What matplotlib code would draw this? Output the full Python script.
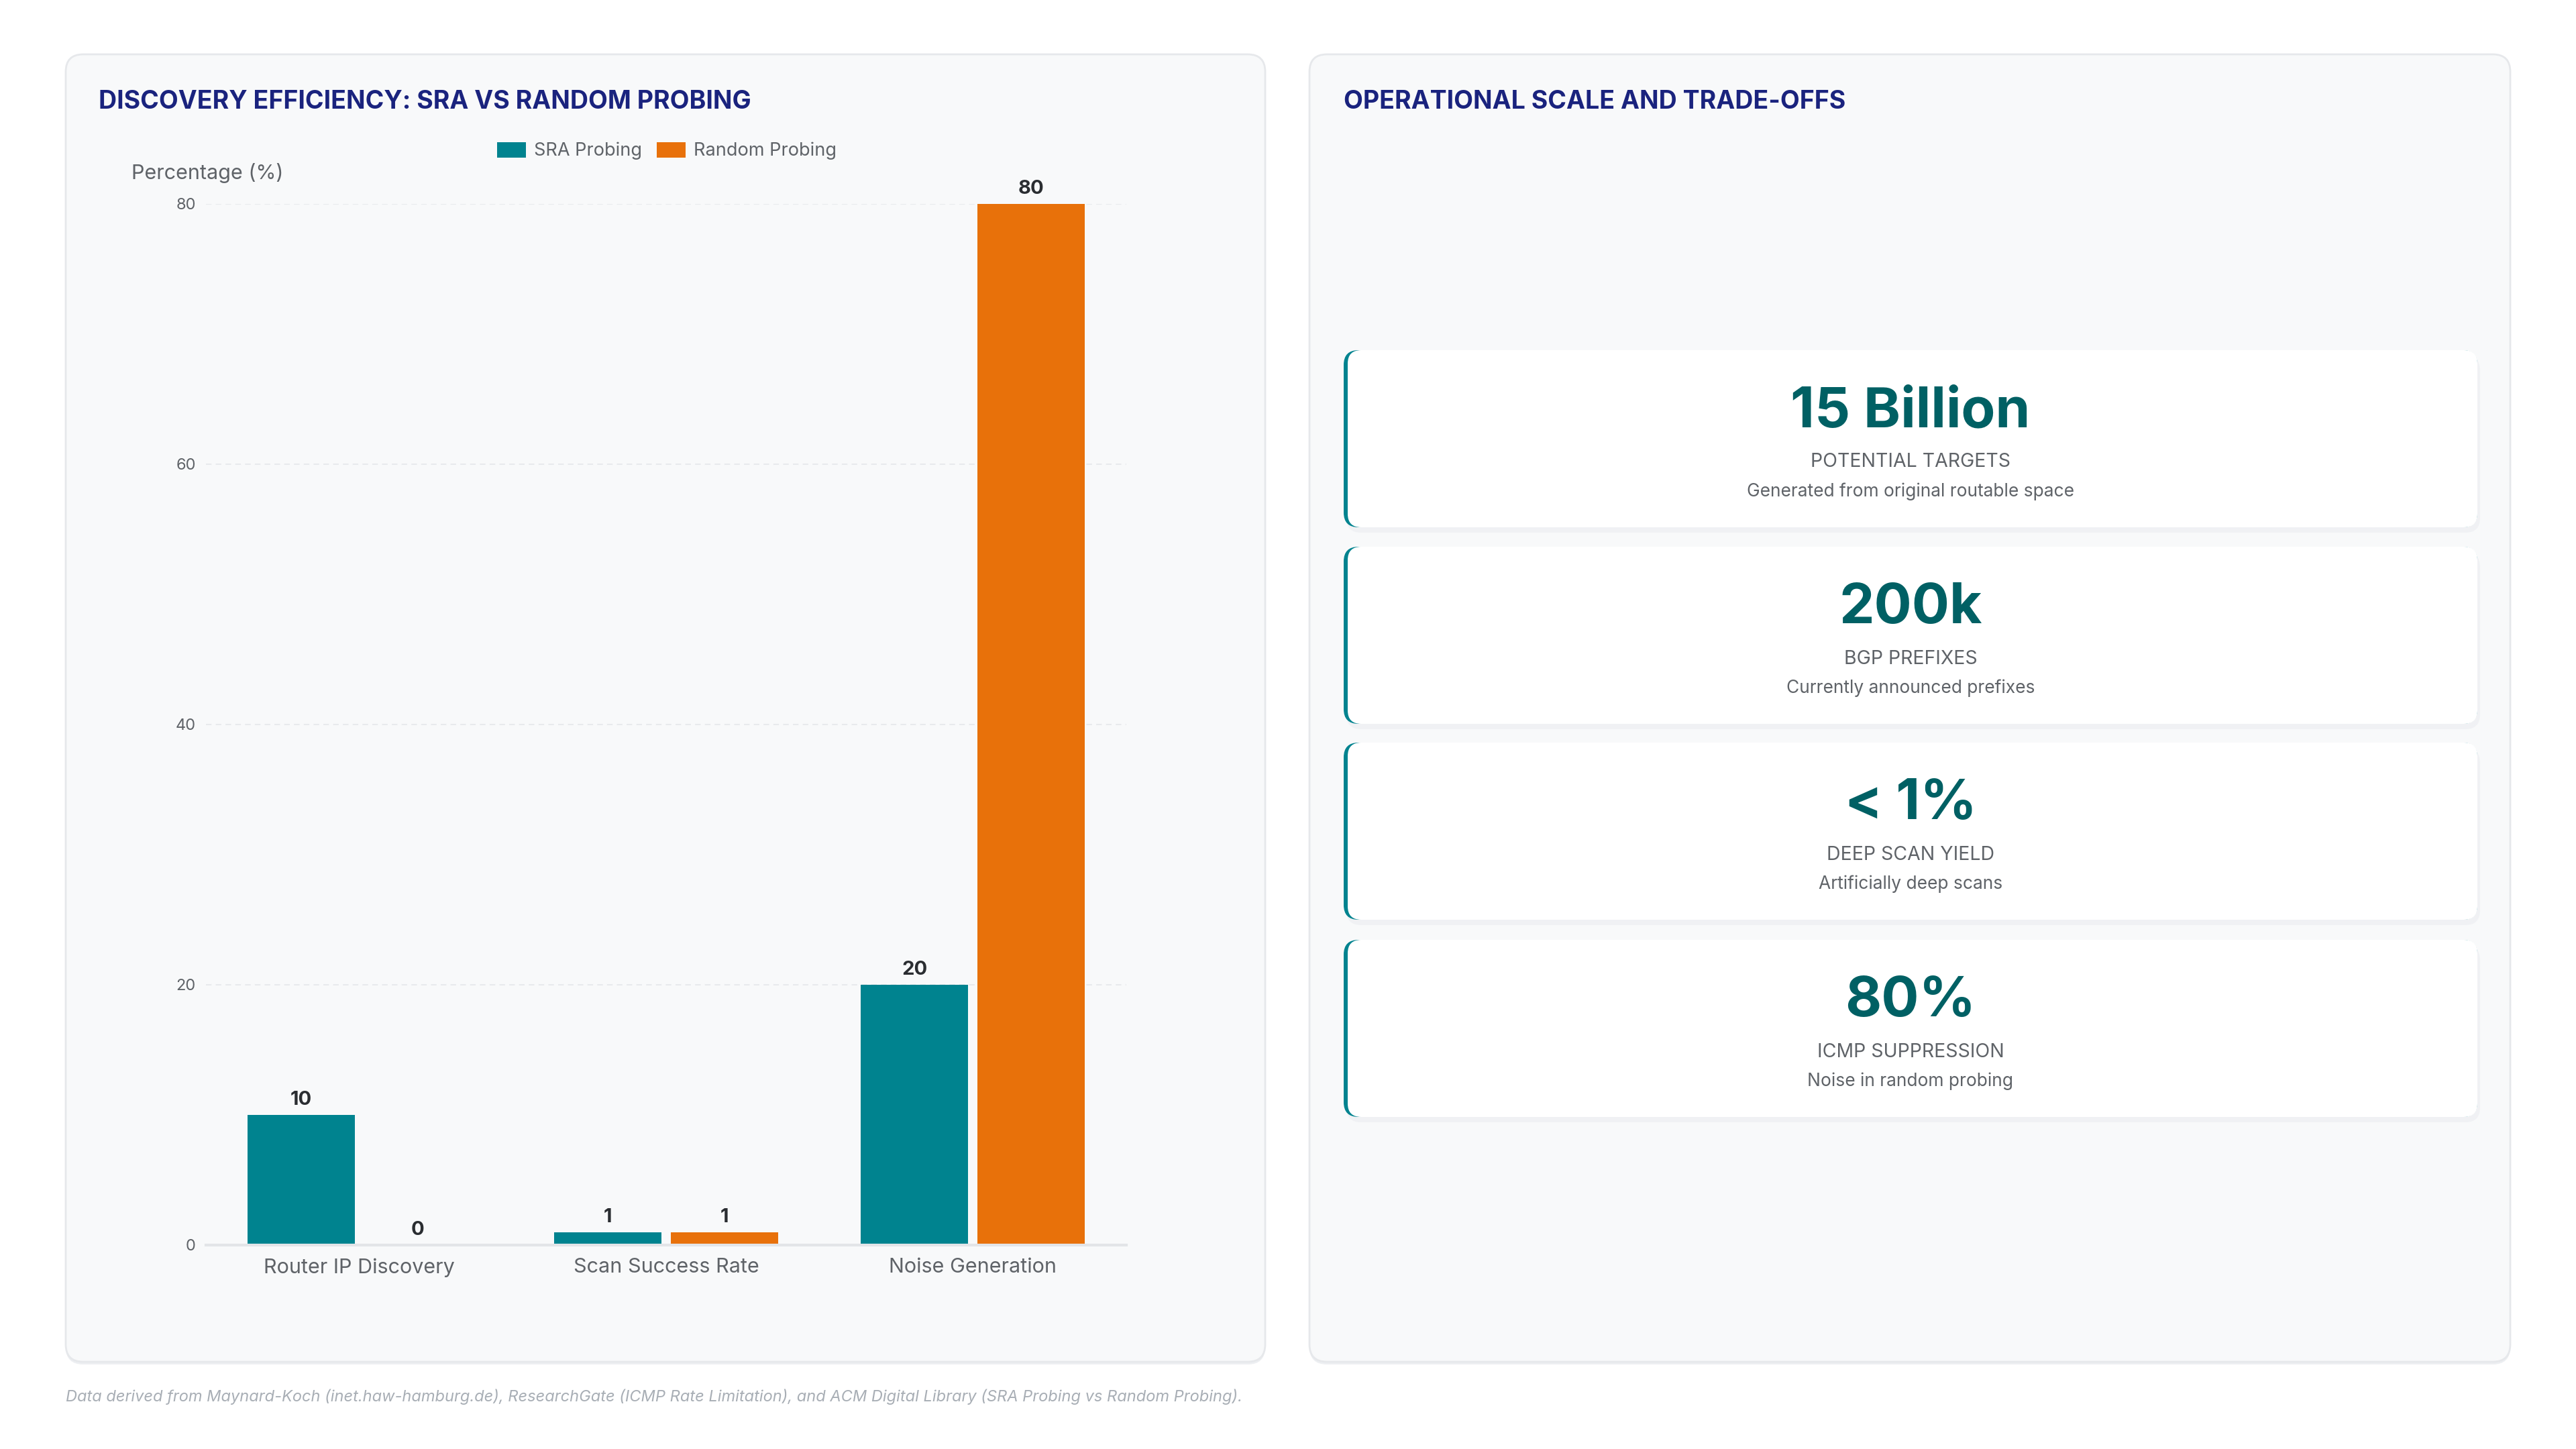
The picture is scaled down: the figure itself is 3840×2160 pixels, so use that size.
import matplotlib
matplotlib.use("Agg")
import matplotlib.pyplot as plt
from matplotlib.patches import FancyBboxPatch, Patch
import numpy as np

plt.rcParams['font.family'] = ['Inter', 'DejaVu Sans']

# ---------------- data ----------------
categories = ["Router IP Discovery", "Scan Success Rate", "Noise Generation"]
sra_values = [10, 1, 20]
random_values = [0, 1, 80]
series_names = ["SRA Probing", "Random Probing"]
y_ticks = [0, 20, 40, 60, 80]

card_values = ["15 Billion", "200k", "< 1%", "80%"]
card_labels = ["POTENTIAL TARGETS", "BGP PREFIXES", "DEEP SCAN YIELD", "ICMP SUPPRESSION"]
card_subs = ["Generated from original routable space", "Currently announced prefixes",
             "Artificially deep scans", "Noise in random probing"]

left_title = "DISCOVERY EFFICIENCY: SRA VS RANDOM PROBING"
right_title = "OPERATIONAL SCALE AND TRADE-OFFS"
y_label = "Percentage (%)"
footer = ("Data derived from Maynard-Koch (inet.haw-hamburg.de), ResearchGate (ICMP Rate Limitation), "
          "and ACM Digital Library (SRA Probing vs Random Probing).")

# ---------------- style ----------------
TEAL = "#00838F"
ORANGE = "#E8710A"
DARK_TEAL = "#006064"
NAVY = "#1A237E"
GRAY = "#5F6368"
PANEL_BG = "#F8F9FA"
BORDER = "#E6E8EB"

W, H = 3840, 2160
fig = plt.figure(figsize=(W / 100, H / 100), dpi=100, facecolor="white")

# background axes in pixel coordinates
bg = fig.add_axes([0, 0, 1, 1], zorder=0)
bg.set_xlim(0, W)
bg.set_ylim(H, 0)
bg.axis("off")

def panel(x0, y0, x1, y1):
    bg.add_patch(FancyBboxPatch((x0, y0 + 4), x1 - x0, y1 - y0, boxstyle="round,pad=0,rounding_size=26",
                                fc="#EDEFF2", ec="none", zorder=1))
    bg.add_patch(FancyBboxPatch((x0, y0), x1 - x0, y1 - y0, boxstyle="round,pad=0,rounding_size=26",
                                fc=PANEL_BG, ec=BORDER, lw=2, zorder=2))

panel(98, 81, 1886, 2030)
panel(1952, 81, 3742, 2030)

bg.text(147, 152, left_title, fontsize=27, fontweight="bold", color=NAVY, va="center", ha="left", zorder=5)
bg.text(2003, 152, right_title, fontsize=27, fontweight="bold", color=NAVY, va="center", ha="left", zorder=5)
bg.text(196, 258, y_label, fontsize=22, color=GRAY, va="center", ha="left", zorder=5)
bg.text(98, 2082, footer, fontsize=17, color="#A8AEB5", style="italic", va="center", ha="left", zorder=5)

# cards
card_x0, card_x1 = 2003, 3693
card_tops = [522, 815, 1107, 1401]
card_h = 264
for top, val, lab, sub in zip(card_tops, card_values, card_labels, card_subs):
    bg.add_patch(FancyBboxPatch((card_x0 + 4, top + 8), card_x1 - card_x0, card_h,
                                boxstyle="round,pad=0,rounding_size=22", fc="#EEF0F3", ec="none",
                                alpha=0.8, zorder=3))
    bg.add_patch(FancyBboxPatch((card_x0, top), card_x1 - card_x0, card_h,
                                boxstyle="round,pad=0,rounding_size=22", fc=TEAL, ec="none", zorder=4))
    bg.add_patch(FancyBboxPatch((card_x0 + 6, top), card_x1 - card_x0 - 6, card_h,
                                boxstyle="round,pad=0,rounding_size=20", fc="white", ec="none", zorder=4.5))
    cx = (card_x0 + card_x1) / 2
    bg.text(cx, top + 92, val, fontsize=60, fontweight="bold", color=DARK_TEAL, ha="center", va="center", zorder=6)
    bg.text(cx, top + 167, lab, fontsize=20.5, color=GRAY, ha="center", va="center", zorder=6)
    bg.text(cx, top + 211, sub, fontsize=19, color=GRAY, ha="center", va="center", zorder=6)

# ---------------- bar chart ----------------
ax_l, ax_r = 307 / W, 1679 / W
ax_b, ax_t = 1 - 1856 / H, 1 - 304 / H
ax = fig.add_axes([ax_l, ax_b, ax_r - ax_l, ax_t - ax_b], zorder=10)
ax.set_facecolor("none")

x = np.arange(len(categories))
bw = 0.35
off = 0.19
b1 = ax.bar(x - off, sra_values, bw, color=TEAL, zorder=3, label=series_names[0])
b2 = ax.bar(x + off, random_values, bw, color=ORANGE, zorder=3, label=series_names[1])

for bars, vals in ((b1, sra_values), (b2, random_values)):
    for rect, v in zip(bars, vals):
        ax.annotate(f"{v}", (rect.get_x() + rect.get_width() / 2, rect.get_height()),
                    xytext=(0, 9), textcoords="offset pixels", ha="center", va="bottom",
                    fontsize=21, fontweight="bold", color="#2A2D31", zorder=5, annotation_clip=False)

ax.set_xlim(-0.5, len(categories) - 0.5)
ax.set_ylim(0, 80)
ax.set_yticks(y_ticks)
ax.set_yticklabels([str(t) for t in y_ticks])
ax.set_xticks(x)
ax.set_xticklabels(categories)
ax.tick_params(axis="y", length=0, pad=11, labelsize=17, labelcolor=GRAY)
ax.tick_params(axis="x", length=0, pad=14, labelsize=22, labelcolor=GRAY)
for s in ("top", "right", "left"):
    ax.spines[s].set_visible(False)
ax.spines["bottom"].set_color("#E3E5E8")
ax.spines["bottom"].set_linewidth(3)
ax.spines["bottom"].set_zorder(4)
ax.yaxis.grid(True, color="#E8EAED", linestyle=(0, (4, 3)), linewidth=1.5, zorder=0)
ax.set_axisbelow(True)

handles = [Patch(facecolor=TEAL, edgecolor="none"), Patch(facecolor=ORANGE, edgecolor="none")]
ax.legend(handles, series_names, loc="center", bbox_to_anchor=(994 / W, 1 - 225 / H),
          bbox_transform=fig.transFigure, ncol=2, frameon=False, fontsize=19.5,
          labelcolor=GRAY, handlelength=1.6, handleheight=0.95, handletextpad=0.45, columnspacing=0.8)

fig.savefig("out.png", dpi=100, facecolor="white")
